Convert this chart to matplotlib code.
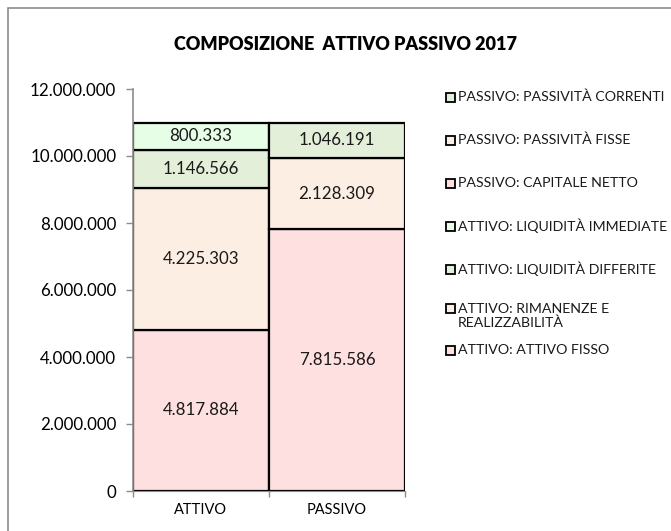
import matplotlib.pyplot as plt
from matplotlib.patches import Rectangle
from matplotlib.ticker import FuncFormatter, MultipleLocator

plt.rcParams['font.family'] = ['Lato', 'DejaVu Sans']

# data
categories = ["ATTIVO", "PASSIVO"]
series_names = [
    "ATTIVO: ATTIVO FISSO",
    "ATTIVO: RIMANENZE E\nREALIZZABILITÀ",
    "ATTIVO: LIQUIDITÀ DIFFERITE",
    "ATTIVO: LIQUIDITÀ IMMEDIATE",
    "PASSIVO: CAPITALE NETTO",
    "PASSIVO: PASSIVITÀ FISSE",
    "PASSIVO: PASSIVITÀ CORRENTI",
]
attivo_values = [4817884, 4225303, 1146566, 800333, 0, 0, 0]
passivo_values = [0, 0, 0, 0, 7815586, 2128309, 1046191]
series_colors = ["#FFE0E0", "#FDEEE4", "#E3EFD9", "#E6FDE6",
                 "#FFE0E0", "#FDEEE4", "#E3EFD9"]

# legend rows (pixel y of each entry, top to bottom) - layout only
legend_y = [97, 140, 183, 226, 269, 316, 350]

W, H = 671, 531


def dotted(v):
    return f"{int(round(v)):,}".replace(",", ".")


fig = plt.figure(figsize=(W / 100, H / 100), dpi=100)
ax = fig.add_axes([133 / W, 1 - 491 / H, 272 / W, 402 / H])

# outer chart frame
fig.patches.append(Rectangle((8 / W, -0.02), 1.0, 1 - 8 / H + 0.02,
                             transform=fig.transFigure, fill=False,
                             edgecolor="#8c8c8c", lw=1.2))

bottoms = [0, 0]
for name, a, p, c in zip(series_names, attivo_values, passivo_values, series_colors):
    for i, v in enumerate([a, p]):
        if v == 0:
            continue
        ax.bar(i, v, bottom=bottoms[i], width=1.0, color=c,
               edgecolor="black", linewidth=1.6, zorder=2)
        ax.text(i, bottoms[i] + v / 2, dotted(v), ha="center", va="center",
                fontsize=12.2, color="#1a1a1a", zorder=3)
        bottoms[i] += v

ax.set_xlim(-0.5, 1.5)
ax.set_ylim(0, 12000000)
ax.yaxis.set_major_locator(MultipleLocator(2000000))
ax.yaxis.set_major_formatter(FuncFormatter(lambda v, _: dotted(v)))
ax.set_xticks([0, 1])
ax.set_xticklabels(categories)
ax.set_xticks([-0.5, 0.5, 1.5], minor=True)
ax.tick_params(axis="x", which="major", length=0, pad=9, labelsize=10.5)
ax.tick_params(axis="x", which="minor", length=4, color="#8c8c8c", width=1)
ax.tick_params(axis="y", length=5, color="#8c8c8c", width=1, labelsize=12.2,
               pad=7)

for s in ["top", "right"]:
    ax.spines[s].set_visible(False)
ax.spines["left"].set_color("#8c8c8c")
ax.spines["bottom"].set_color("#8c8c8c")
ax.spines["left"].set_linewidth(1.2)

fig.text(345 / W, 1 - 45 / H, "COMPOSIZIONE  ATTIVO PASSIVO 2017",
         ha="center", va="center", fontsize=13, fontweight="heavy")

# legend, listed in reverse series order like the original
for name, c, y in zip(series_names[::-1], series_colors[::-1], legend_y):
    yf = 1 - y / H
    box_y = y - 8 if "\n" in name else y
    fig.patches.append(Rectangle((446 / W, 1 - (box_y + 4.5) / H), 9 / W, 9 / H,
                                 transform=fig.transFigure, facecolor=c,
                                 edgecolor="black", lw=1.3))
    fig.text(458 / W, yf, name, ha="left", va="center",
             fontsize=10.2, linespacing=1.15, color="#1a1a1a")

fig.savefig("out.png", dpi=100)
